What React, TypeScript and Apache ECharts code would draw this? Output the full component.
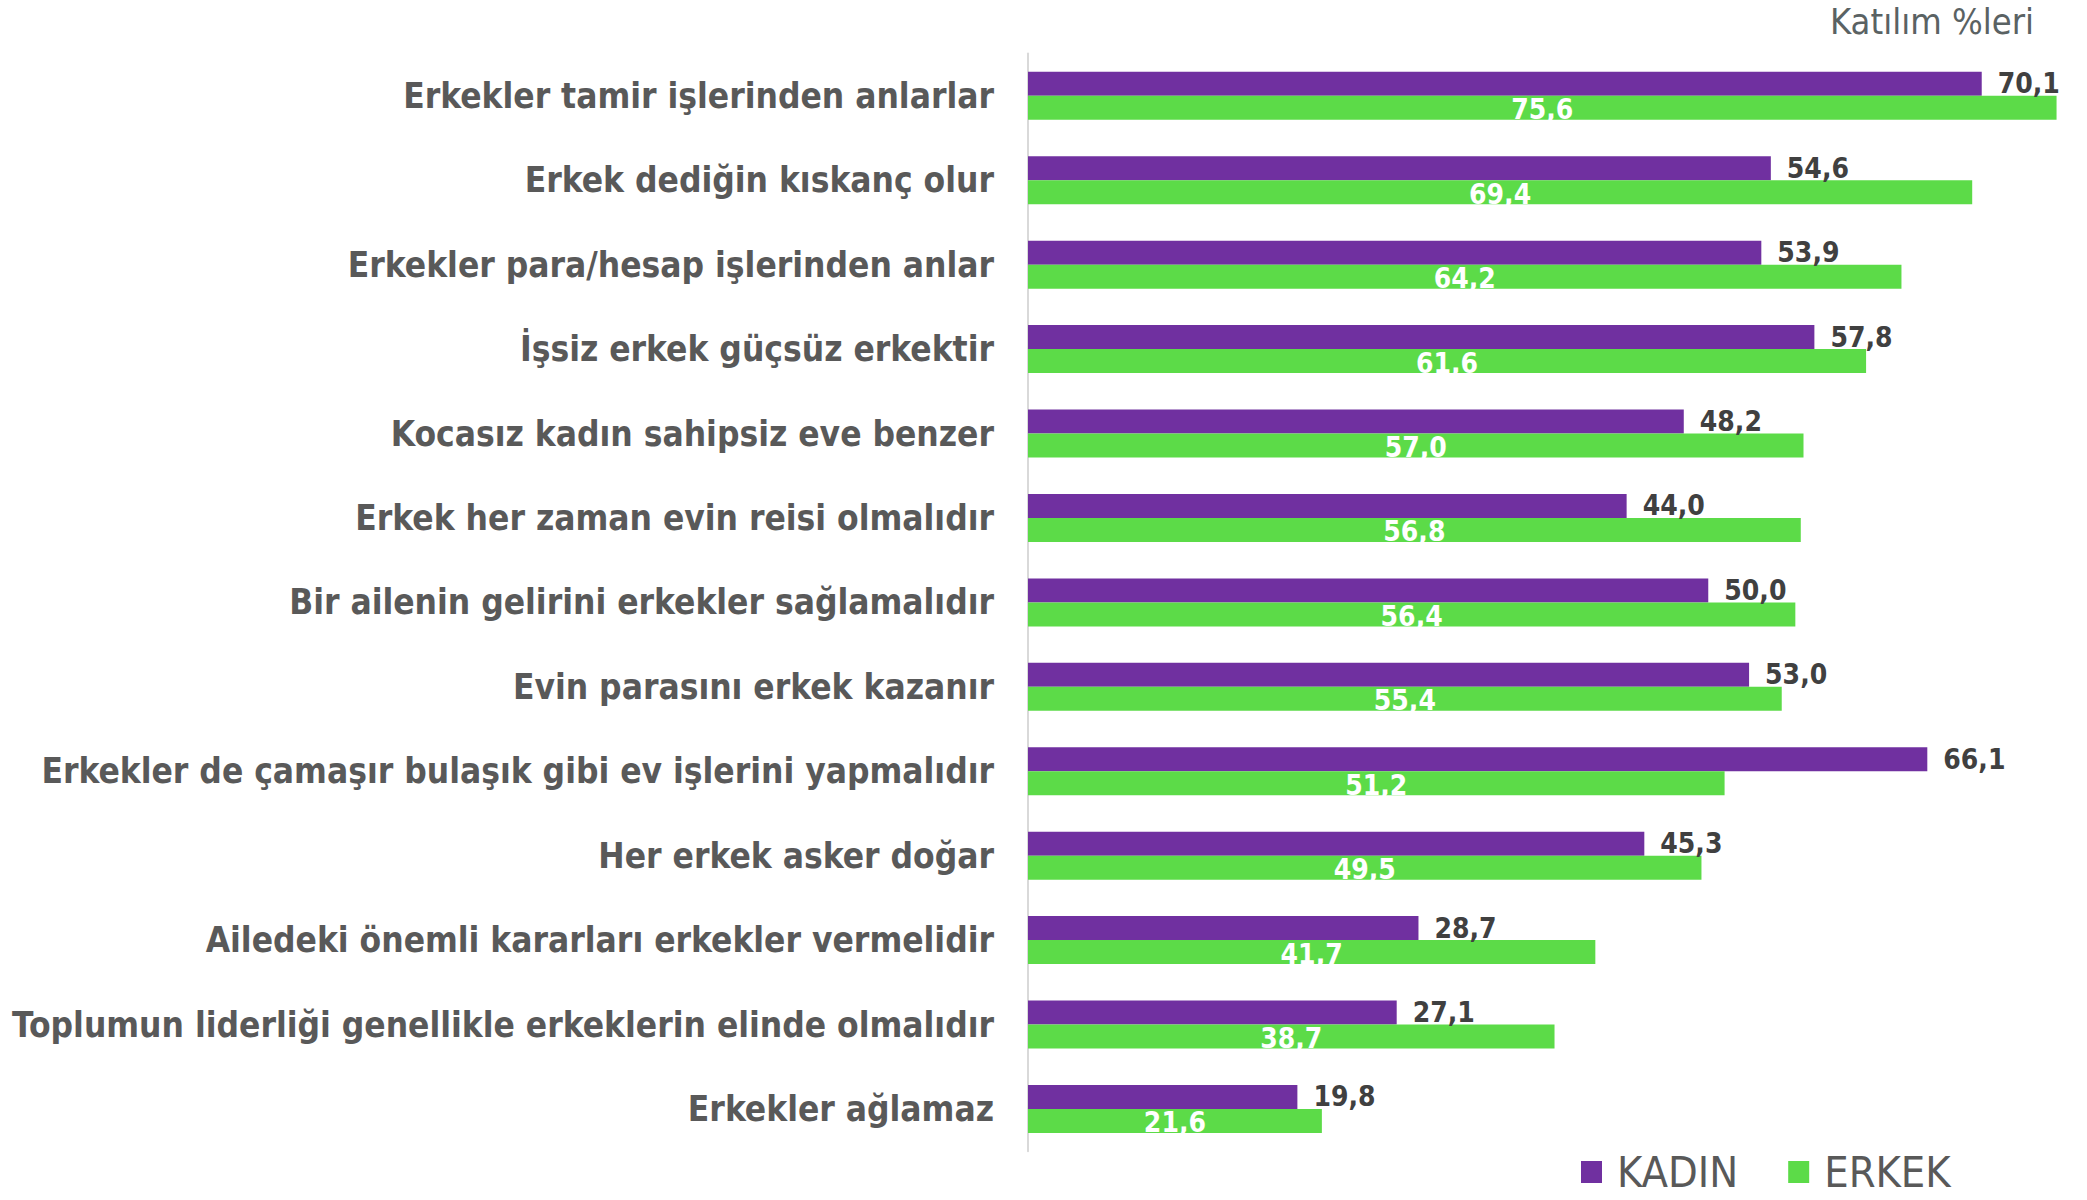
import React, { useEffect, useRef } from "react";
import * as echarts from "echarts";

const categories = [
  "Erkekler tamir işlerinden anlarlar",
  "Erkek dediğin kıskanç olur",
  "Erkekler para/hesap işlerinden anlar",
  "İşsiz erkek güçsüz erkektir",
  "Kocasız kadın sahipsiz eve benzer",
  "Erkek her zaman evin reisi olmalıdır",
  "Bir ailenin gelirini erkekler sağlamalıdır",
  "Evin parasını erkek kazanır",
  "Erkekler de çamaşır bulaşık gibi ev işlerini yapmalıdır",
  "Her erkek asker doğar",
  "Ailedeki önemli kararları erkekler vermelidir",
  "Toplumun liderliği genellikle erkeklerin elinde olmalıdır",
  "Erkekler ağlamaz",
];

const kadin = [70.1, 54.6, 53.9, 57.8, 48.2, 44.0, 50.0, 53.0, 66.1, 45.3, 28.7, 27.1, 19.8];
const erkek = [75.6, 69.4, 64.2, 61.6, 57.0, 56.8, 56.4, 55.4, 51.2, 49.5, 41.7, 38.7, 21.6];

const seriesNames = ["KADIN", "ERKEK"];
const titleText = "Katılım %leri";

const FONT = "'DejaVu Sans Condensed', 'DejaVu Sans', sans-serif";
const fmt = (v: number) => v.toFixed(1).replace(".", ",");

export default function App() {
  const ref = useRef<HTMLDivElement>(null);
  useEffect(() => {
    document.body.style.margin = "0";
    const chart = echarts.init(ref.current!, null, { renderer: "svg" });
    chart.setOption({
      animation: false,
      backgroundColor: "#ffffff",
      title: {
        text: titleText,
        right: 53,
        top: 3,
        padding: 0,
        textStyle: { fontFamily: FONT, fontSize: 36, fontWeight: "normal", color: "#5a6263" },
      },
      legend: {
        left: 1581,
        top: 1148,
        padding: 0,
        icon: "rect",
        itemWidth: 21,
        itemHeight: 22,
        itemGap: 50,
        textStyle: { fontFamily: FONT, fontSize: 43, lineHeight: 48, color: "#595959", padding: [0, 0, 0, 10] },
        data: seriesNames,
      },
      grid: { left: 1028, top: 53.6, height: 1097.6, width: 1034, containLabel: false },
      xAxis: {
        type: "value",
        min: 0,
        max: 76,
        show: false,
      },
      yAxis: {
        type: "category",
        inverse: true,
        data: categories,
        axisLine: { show: true, lineStyle: { color: "#d9d9d9", width: 2 } },
        axisTick: { show: false },
        axisLabel: {
          margin: 34,
          fontFamily: FONT,
          fontSize: 35,
          fontWeight: "bold",
          color: "#595959",
        },
      },
      series: [
        {
          name: seriesNames[0],
          type: "bar",
          data: kadin,
          barWidth: 24,
          barGap: "0%",
          itemStyle: { color: "#7030A0" },
          label: {
            show: true,
            position: "right",
            distance: 16,
            fontFamily: FONT,
            fontSize: 28,
            fontWeight: "bold",
            color: "#404040",
            formatter: (p: any) => fmt(p.value),
          },
        },
        {
          name: seriesNames[1],
          type: "bar",
          data: erkek,
          barWidth: 24,
          barGap: "0%",
          itemStyle: { color: "#5CDB48" },
          label: {
            show: true,
            position: "inside",
            offset: [0, 2],
            fontFamily: FONT,
            fontSize: 28,
            fontWeight: "bold",
            color: "#ffffff",
            formatter: (p: any) => fmt(p.value),
          },
        },
      ],
    });
    return () => chart.dispose();
  }, []);
  return <div ref={ref} style={{ position: "fixed", left: 0, top: 0, width: 2087, height: 1200 }} />;
}
